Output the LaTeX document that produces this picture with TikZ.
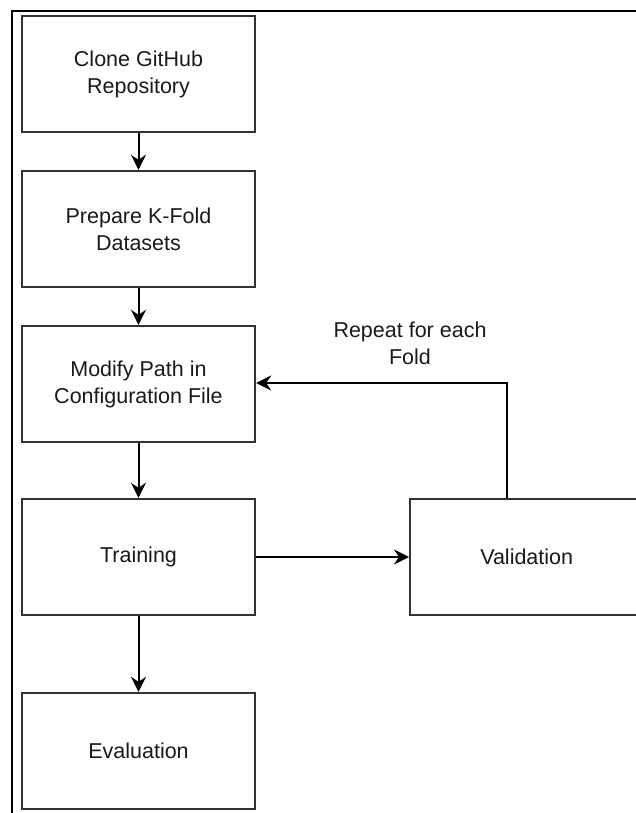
\documentclass[tikz,border=0pt]{standalone}
\usepackage{fontspec}
\setmainfont{Liberation Sans}
\usetikzlibrary{arrows.meta}
\definecolor{boxline}{HTML}{333333}
\definecolor{txt}{HTML}{1A1A1A}
\tikzset{
  stepbox/.style={draw=boxline, line width=2.4pt, fill=white, minimum width=233pt, minimum height=116pt,
    inner sep=0pt, align=center, text=txt, font=\fontsize{21.5}{27}\selectfont},
  conn/.style={draw=black, line width=2pt, -{Stealth[length=15pt,width=15pt,inset=5pt]}},
  lbl/.style={text=txt, align=center, font=\fontsize{21.5}{27}\selectfont, inner sep=0pt}
}
\begin{document}
\begin{tikzpicture}[x=1pt,y=-1pt]
\useasboundingbox (0,0) rectangle (636,813);
\draw[line width=2.6pt, black] (12,830) -- (12,11) -- (650,11);
\node[stepbox] (clone) at (138.5,74) {Clone GitHub\\Repository};
\node[stepbox] (prep) at (138.5,229) {Prepare K-Fold\\Datasets};
\node[stepbox] (mod) at (138.5,384) {Modify Path in\\Configuration File};
\node[stepbox] (train) at (138.5,557) {Training};
\node[stepbox] (eval) at (138.5,751) {Evaluation};
\node[stepbox, anchor=west] (val) at (409,557) {Validation};
\coordinate (corner) at (507,383);
\node[lbl] (rep) at (410,343) {Repeat for each\\Fold};
\draw[conn] (clone) -- (prep);
\draw[conn] (prep) -- (mod);
\draw[conn] (mod) -- (train);
\draw[conn] (train) -- (eval);
\draw[conn] (train) -- (val);
\draw[conn] (val.north -| corner) -- (corner) -- (mod.east |- corner);
\end{tikzpicture}
\end{document}
